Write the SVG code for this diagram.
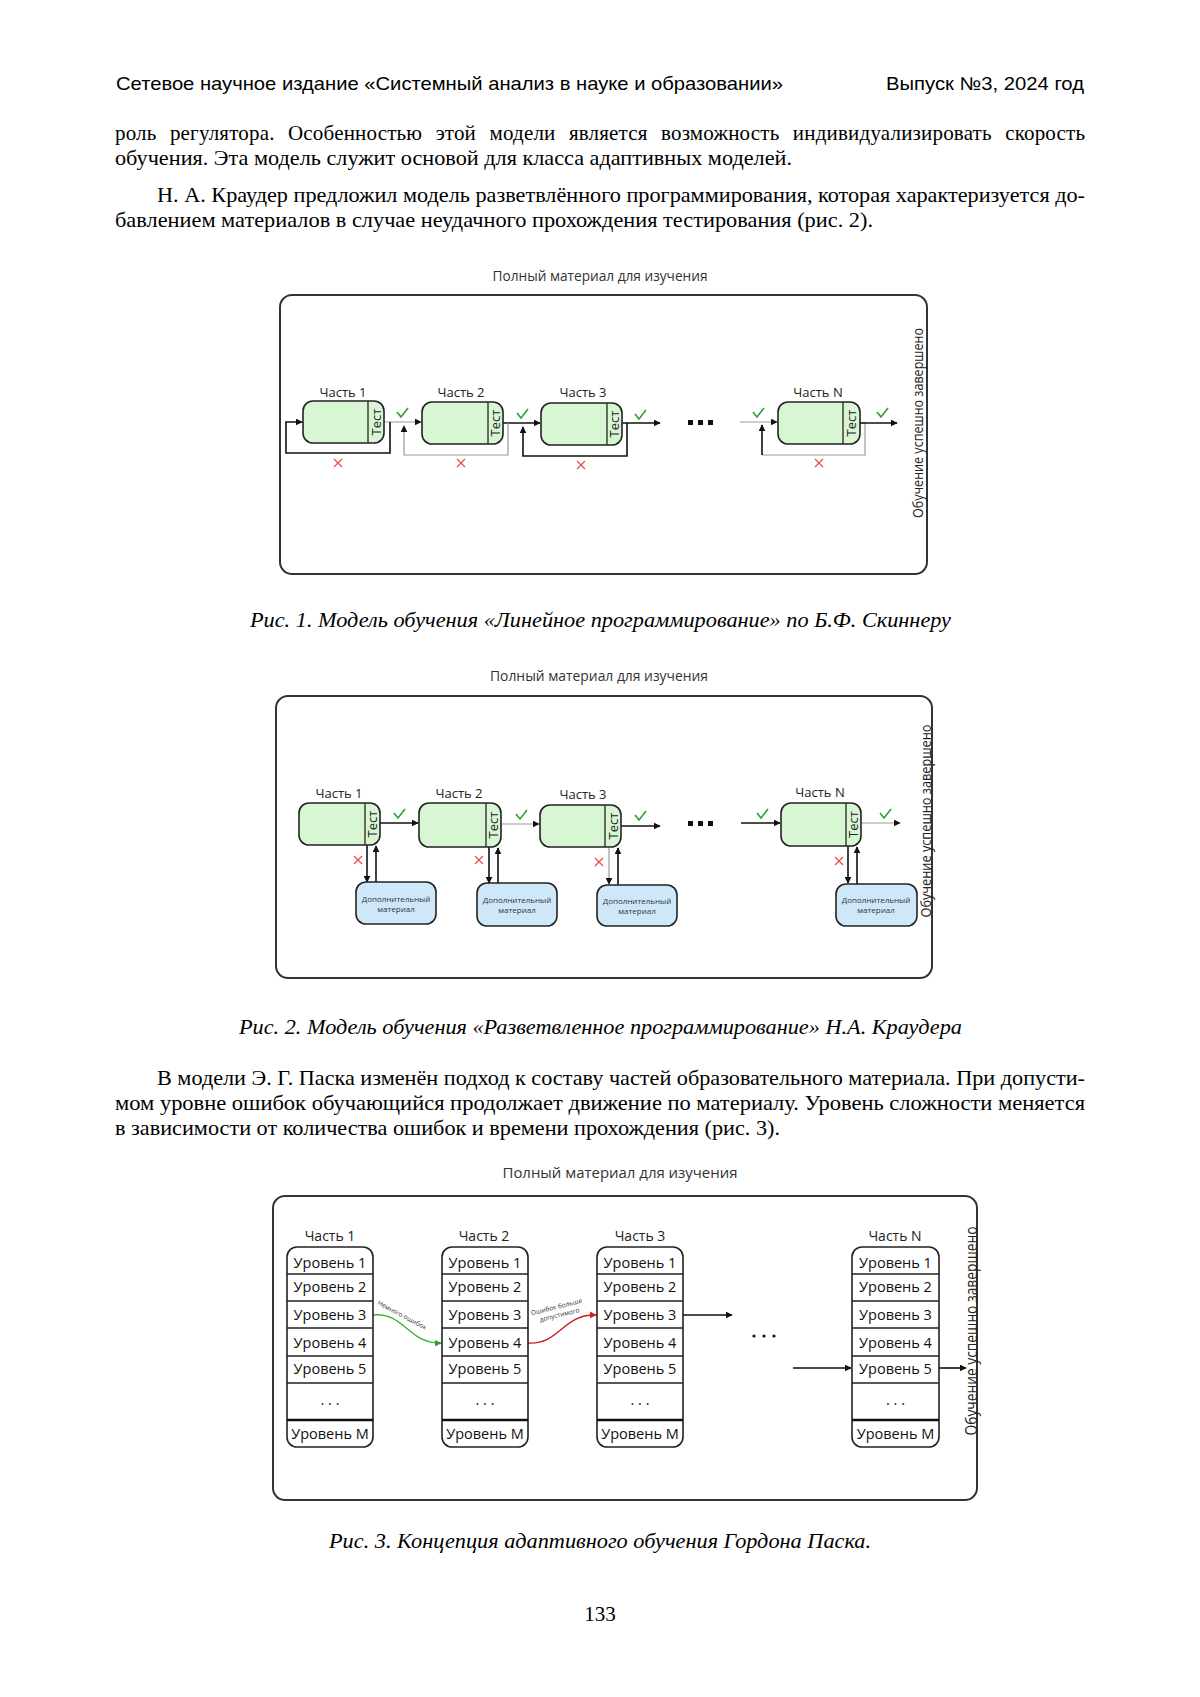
<svg xmlns="http://www.w3.org/2000/svg" width="1200" height="1697" viewBox="0 0 1200 1697">
<defs>
<style>
.hdr{font-family:"Liberation Sans",Arial,sans-serif;font-size:18.5px;fill:#000}
.body{font-family:"Liberation Serif","Times New Roman",serif;font-size:21px;fill:#000}
.cap{font-family:"Liberation Serif","Times New Roman",serif;font-size:20.5px;font-style:italic;fill:#000}
.ttl{font-family:"Open Sans","Noto Sans",sans-serif;font-size:14px;fill:#333;text-anchor:middle}
.lbl{font-family:"Open Sans","Noto Sans",sans-serif;font-size:13px;fill:#222;text-anchor:middle}
.vt{font-family:"Open Sans","Noto Sans",sans-serif;font-size:14.5px;fill:#222;text-anchor:middle}
.tst{font-family:"Open Sans","Noto Sans",sans-serif;font-size:13px;fill:#222;text-anchor:middle}
.add{font-family:"Open Sans","Noto Sans",sans-serif;font-size:8px;fill:#333;text-anchor:middle}
.lvl{font-family:"Open Sans","Noto Sans",sans-serif;font-size:14.5px;fill:#111;text-anchor:middle}
.tiny{font-family:"Open Sans","Noto Sans",sans-serif;font-size:6.5px;fill:#333;text-anchor:middle}
.frame{fill:#fff;stroke:#333;stroke-width:2}
.part{fill:#d9f6d4;stroke:#222;stroke-width:1.6}
.addbox{fill:#cfe8f9;stroke:#222;stroke-width:1.6}
.col{fill:#fff;stroke:#222;stroke-width:1.6}
.sep{stroke:#222;stroke-width:1.4}
.div{stroke:#333;stroke-width:1.4}
.blk{fill:none;stroke:#111;stroke-width:1.6}
.gry{fill:none;stroke:#999;stroke-width:1.2}
.ok{fill:none;stroke:#2fa02f;stroke-width:1.6}
.no{fill:none;stroke:#e84a4a;stroke-width:1.2}
</style>
<marker id="ah" viewBox="0 0 10 10" refX="9" refY="5" markerWidth="7" markerHeight="7" markerUnits="userSpaceOnUse" orient="auto"><path d="M0,0 L10,5 L0,10 z" fill="#111"/></marker>
<marker id="ahg" viewBox="0 0 10 10" refX="9" refY="5" markerWidth="7" markerHeight="7" markerUnits="userSpaceOnUse" orient="auto"><path d="M0,0 L10,5 L0,10 z" fill="#2fa02f"/></marker>
<marker id="ahr" viewBox="0 0 10 10" refX="9" refY="5" markerWidth="7" markerHeight="7" markerUnits="userSpaceOnUse" orient="auto"><path d="M0,0 L10,5 L0,10 z" fill="#d81e1e"/></marker>
<path id="chk" d="M-5,-1 L-1,4 L6,-5"/>
<path id="xx" d="M-4,-4 L4,4 M4,-4 L-4,4"/>
</defs>
<rect width="1200" height="1697" fill="#fff"/>

<g id="page-text">
<text class="hdr" x="116" y="90" textLength="667" lengthAdjust="spacingAndGlyphs">Сетевое научное издание «Системный анализ в науке и образовании»</text>
<text class="hdr" x="886" y="90" textLength="198" lengthAdjust="spacingAndGlyphs">Выпуск №3, 2024 год</text>
<text class="body" x="115" y="140" word-spacing="8" textLength="970" lengthAdjust="spacing">роль регулятора. Особенностью этой модели является возможность индивидуализировать скорость</text>
<text class="body" x="115" y="165" textLength="677" lengthAdjust="spacingAndGlyphs">обучения. Эта модель служит основой для класса адаптивных моделей.</text>
<text class="body" x="157" y="202" textLength="928" lengthAdjust="spacingAndGlyphs">Н. А. Краудер предложил модель разветвлённого программирования, которая характеризуется до-</text>
<text class="body" x="115" y="227" textLength="758" lengthAdjust="spacingAndGlyphs">бавлением материалов в случае неудачного прохождения тестирования (рис. 2).</text>
<text class="cap" x="250" y="627" textLength="701" lengthAdjust="spacingAndGlyphs">Рис. 1. Модель обучения «Линейное программирование» по Б.Ф. Скиннеру</text>
<text class="cap" x="239" y="1034" textLength="723" lengthAdjust="spacingAndGlyphs">Рис. 2. Модель обучения «Разветвленное программирование» Н.А. Краудера</text>
<text class="body" x="157" y="1085" textLength="928" lengthAdjust="spacingAndGlyphs">В модели Э. Г. Паска изменён подход к составу частей образовательного материала. При допусти-</text>
<text class="body" x="115" y="1110" textLength="970" lengthAdjust="spacingAndGlyphs">мом уровне ошибок обучающийся продолжает движение по материалу. Уровень сложности меняется</text>
<text class="body" x="115" y="1135" textLength="665" lengthAdjust="spacingAndGlyphs">в зависимости от количества ошибок и времени прохождения (рис. 3).</text>
<text class="cap" x="329" y="1548" textLength="542" lengthAdjust="spacingAndGlyphs">Рис. 3. Концепция адаптивного обучения Гордона Паска.</text>
<text class="body" x="600" y="1621" text-anchor="middle">133</text>
</g>

<!-- ===== Figure 1 ===== -->
<g id="fig1">
<text class="ttl" x="600" y="281" textLength="215" lengthAdjust="spacingAndGlyphs">Полный материал для изучения</text>
<rect class="frame" x="280" y="295" width="647" height="279" rx="12"/>
<text class="vt" transform="translate(923,423) rotate(-90)" textLength="190" lengthAdjust="spacingAndGlyphs">Обучение успешно завершено</text>
</g>
<g id="f1-connectors">
<path class="gry" d="M384,422 H421" marker-end="url(#ah)"/>
<path class="blk" d="M390,422 V453 H286 V422 H302" marker-end="url(#ah)"/>
<path class="blk" d="M503,423 H540" marker-end="url(#ah)"/>
<path class="gry" d="M508,423 V455 H404 V426" marker-end="url(#ah)"/>
<path class="blk" d="M622,423 H660" marker-end="url(#ah)"/>
<path class="blk" d="M627,423 V456 H523 V427" marker-end="url(#ah)"/>
<path class="gry" d="M740,422 H777" marker-end="url(#ah)"/>
<path class="gry" d="M860,423 H865 V455 H762"/>
<path class="blk" d="M762,455 V425" marker-end="url(#ah)"/>
<path class="blk" d="M860,423 H897" marker-end="url(#ah)"/>
<use href="#chk" class="ok" x="402" y="413"/>
<use href="#chk" class="ok" x="522" y="414"/>
<use href="#chk" class="ok" x="640" y="415"/>
<use href="#chk" class="ok" x="758" y="413"/>
<use href="#chk" class="ok" x="882" y="413"/>
<use href="#xx" class="no" x="338" y="463"/>
<use href="#xx" class="no" x="461" y="463"/>
<use href="#xx" class="no" x="581" y="465"/>
<use href="#xx" class="no" x="819" y="463"/>
<rect x="688" y="420" width="5" height="5" fill="#111"/>
<rect x="698" y="420" width="5" height="5" fill="#111"/>
<rect x="708" y="420" width="5" height="5" fill="#111"/>
</g>
<g id="f1-part1">
<text class="lbl" x="343" y="397">Часть 1</text>
<rect class="part" x="303" y="401" width="81" height="42" rx="10"/>
<line class="div" x1="368" y1="401" x2="368" y2="443"/>
<text class="tst" transform="translate(380.5,422) rotate(-90)">Тест</text>
</g>
<g id="f1-part2">
<text class="lbl" x="461" y="397">Часть 2</text>
<rect class="part" x="422" y="402" width="81" height="42" rx="10"/>
<line class="div" x1="488" y1="402" x2="488" y2="444"/>
<text class="tst" transform="translate(500,423) rotate(-90)">Тест</text>
</g>
<g id="f1-part3">
<text class="lbl" x="583" y="397">Часть 3</text>
<rect class="part" x="541" y="403" width="81" height="42" rx="10"/>
<line class="div" x1="607" y1="403" x2="607" y2="445"/>
<text class="tst" transform="translate(619,424) rotate(-90)">Тест</text>
</g>
<g id="f1-partN">
<text class="lbl" x="818" y="397">Часть N</text>
<rect class="part" x="778" y="402" width="82" height="42" rx="10"/>
<line class="div" x1="843" y1="402" x2="843" y2="444"/>
<text class="tst" transform="translate(856,423) rotate(-90)">Тест</text>
</g>

<!-- ===== Figure 2 ===== -->
<g id="fig2">
<text class="ttl" x="599" y="681" textLength="218" lengthAdjust="spacingAndGlyphs">Полный материал для изучения</text>
<rect class="frame" x="276" y="696" width="656" height="282" rx="12"/>
<text class="vt" transform="translate(931,821) rotate(-90)" textLength="193" lengthAdjust="spacingAndGlyphs">Обучение успешно завершено</text>
</g>
<g id="f2-connectors">
<path class="blk" d="M380,823 H418" marker-end="url(#ah)"/>
<path class="gry" d="M501,824 H539" marker-end="url(#ah)"/>
<path class="blk" d="M621,826 H660" marker-end="url(#ah)"/>
<path class="blk" d="M741,823 H780" marker-end="url(#ah)"/>
<path class="gry" d="M861,823 H900" marker-end="url(#ah)"/>
<path class="blk" d="M367,845 V882" marker-end="url(#ah)"/>
<path class="blk" d="M376,882 V846" marker-end="url(#ah)"/>
<path class="blk" d="M489,847 V883" marker-end="url(#ah)"/>
<path class="blk" d="M498,883 V848" marker-end="url(#ah)"/>
<path class="gry" d="M609,847 V884" marker-end="url(#ah)"/>
<path class="blk" d="M618,885 V848" marker-end="url(#ah)"/>
<path class="blk" d="M848,846 V883" marker-end="url(#ah)"/>
<path class="blk" d="M857,884 V847" marker-end="url(#ah)"/>
<use href="#chk" class="ok" x="399" y="814"/>
<use href="#chk" class="ok" x="521" y="815"/>
<use href="#chk" class="ok" x="640" y="816"/>
<use href="#chk" class="ok" x="762" y="814"/>
<use href="#chk" class="ok" x="885" y="814"/>
<use href="#xx" class="no" x="358" y="860"/>
<use href="#xx" class="no" x="479" y="860"/>
<use href="#xx" class="no" x="599" y="862"/>
<use href="#xx" class="no" x="839" y="861"/>
<rect x="688" y="821" width="5" height="5" fill="#111"/>
<rect x="698" y="821" width="5" height="5" fill="#111"/>
<rect x="708" y="821" width="5" height="5" fill="#111"/>
</g>
<g id="f2-part1">
<text class="lbl" x="339" y="798">Часть 1</text>
<rect class="part" x="299" y="803" width="81" height="42" rx="10"/>
<line class="div" x1="365" y1="803" x2="365" y2="845"/>
<text class="tst" transform="translate(377,824) rotate(-90)">Тест</text>
</g>
<g id="f2-part2">
<text class="lbl" x="459" y="798">Часть 2</text>
<rect class="part" x="419" y="803" width="82" height="44" rx="10"/>
<line class="div" x1="486" y1="803" x2="486" y2="847"/>
<text class="tst" transform="translate(498,825) rotate(-90)">Тест</text>
</g>
<g id="f2-part3">
<text class="lbl" x="583" y="799">Часть 3</text>
<rect class="part" x="540" y="805" width="81" height="42" rx="10"/>
<line class="div" x1="605" y1="805" x2="605" y2="847"/>
<text class="tst" transform="translate(617.5,826) rotate(-90)">Тест</text>
</g>
<g id="f2-partN">
<text class="lbl" x="820" y="797">Часть N</text>
<rect class="part" x="781" y="803" width="80" height="43" rx="10"/>
<line class="div" x1="846" y1="803" x2="846" y2="846"/>
<text class="tst" transform="translate(858,824.5) rotate(-90)">Тест</text>
</g>
<g id="f2-add1">
<rect class="addbox" x="356" y="882" width="80" height="42" rx="10"/>
<text class="add" x="396" y="902">Дополнительный</text>
<text class="add" x="396" y="912">материал</text>
</g>
<g id="f2-add2">
<rect class="addbox" x="477" y="883" width="80" height="43" rx="10"/>
<text class="add" x="517" y="903">Дополнительный</text>
<text class="add" x="517" y="913">материал</text>
</g>
<g id="f2-add3">
<rect class="addbox" x="597" y="885" width="80" height="41" rx="10"/>
<text class="add" x="637" y="904">Дополнительный</text>
<text class="add" x="637" y="914">материал</text>
</g>
<g id="f2-addN">
<rect class="addbox" x="836" y="884" width="81" height="42" rx="10"/>
<text class="add" x="876" y="903">Дополнительный</text>
<text class="add" x="876" y="913">материал</text>
</g>

<!-- ===== Figure 3 ===== -->
<g id="fig3">
<text class="ttl" x="620" y="1178" style="font-size:15px" textLength="235" lengthAdjust="spacingAndGlyphs">Полный материал для изучения</text>
<rect class="frame" x="273" y="1196" width="704" height="304" rx="12"/>
<text class="vt" transform="translate(977,1331) rotate(-90)" style="font-size:15.5px" textLength="209" lengthAdjust="spacingAndGlyphs">Обучение успешно завершено</text>
</g>
<g id="f3-connectors">
<path d="M373,1315 C405,1312 408,1344 441,1343" fill="none" stroke="#3cb43c" stroke-width="1.4" marker-end="url(#ahg)"/>
<text class="tiny" transform="translate(401,1317) rotate(28)">Немного ошибок</text>
<path d="M528,1343 C560,1345 562,1314 596,1315" fill="none" stroke="#cc1f1f" stroke-width="1.4" marker-end="url(#ahr)"/>
<text class="tiny" transform="translate(557,1309) rotate(-14)">Ошибок больше</text>
<text class="tiny" transform="translate(560,1317) rotate(-14)">допустимого</text>
<path class="blk" d="M683,1315 H732" marker-end="url(#ah)"/>
<path class="blk" d="M793,1368 H851" marker-end="url(#ah)"/>
<path class="blk" d="M939,1368 H966" marker-end="url(#ah)"/>
<circle cx="754" cy="1336" r="1.6" fill="#111"/>
<circle cx="764" cy="1336" r="1.6" fill="#111"/>
<circle cx="774" cy="1336" r="1.6" fill="#111"/>
</g>
<g id="f3-part1">
<text class="lbl" x="330" y="1241" style="font-size:14px">Часть 1</text>
<rect class="col" x="287" y="1247" width="86" height="200" rx="10"/>
<path class="sep" d="M287,1274 H373 M287,1301 H373 M287,1328 H373 M287,1356 H373 M287,1383 H373"/>
<path d="M287,1420 H373" stroke="#111" stroke-width="2.4"/>
<text class="lvl" x="330" y="1268">Уровень 1</text>
<text class="lvl" x="330" y="1292">Уровень 2</text>
<text class="lvl" x="330" y="1320">Уровень 3</text>
<text class="lvl" x="330" y="1348">Уровень 4</text>
<text class="lvl" x="330" y="1374">Уровень 5</text>
<text class="lvl" x="330" y="1405">. . .</text>
<text class="lvl" x="330" y="1439">Уровень М</text>
</g>
<g id="f3-part2">
<text class="lbl" x="484" y="1241" style="font-size:14px">Часть 2</text>
<rect class="col" x="442" y="1247" width="86" height="200" rx="10"/>
<path class="sep" d="M442,1274 H528 M442,1301 H528 M442,1328 H528 M442,1356 H528 M442,1383 H528"/>
<path d="M442,1420 H528" stroke="#111" stroke-width="2.4"/>
<text class="lvl" x="485" y="1268">Уровень 1</text>
<text class="lvl" x="485" y="1292">Уровень 2</text>
<text class="lvl" x="485" y="1320">Уровень 3</text>
<text class="lvl" x="485" y="1348">Уровень 4</text>
<text class="lvl" x="485" y="1374">Уровень 5</text>
<text class="lvl" x="485" y="1405">. . .</text>
<text class="lvl" x="485" y="1439">Уровень М</text>
</g>
<g id="f3-part3">
<text class="lbl" x="640" y="1241" style="font-size:14px">Часть 3</text>
<rect class="col" x="597" y="1247" width="86" height="200" rx="10"/>
<path class="sep" d="M597,1274 H683 M597,1301 H683 M597,1328 H683 M597,1356 H683 M597,1383 H683"/>
<path d="M597,1420 H683" stroke="#111" stroke-width="2.4"/>
<text class="lvl" x="640" y="1268">Уровень 1</text>
<text class="lvl" x="640" y="1292">Уровень 2</text>
<text class="lvl" x="640" y="1320">Уровень 3</text>
<text class="lvl" x="640" y="1348">Уровень 4</text>
<text class="lvl" x="640" y="1374">Уровень 5</text>
<text class="lvl" x="640" y="1405">. . .</text>
<text class="lvl" x="640" y="1439">Уровень М</text>
</g>
<g id="f3-partN">
<text class="lbl" x="895" y="1241" style="font-size:14px">Часть N</text>
<rect class="col" x="852" y="1247" width="87" height="200" rx="10"/>
<path class="sep" d="M852,1274 H939 M852,1301 H939 M852,1328 H939 M852,1356 H939 M852,1383 H939"/>
<path d="M852,1420 H939" stroke="#111" stroke-width="2.4"/>
<text class="lvl" x="895.5" y="1268">Уровень 1</text>
<text class="lvl" x="895.5" y="1292">Уровень 2</text>
<text class="lvl" x="895.5" y="1320">Уровень 3</text>
<text class="lvl" x="895.5" y="1348">Уровень 4</text>
<text class="lvl" x="895.5" y="1374">Уровень 5</text>
<text class="lvl" x="895.5" y="1405">. . .</text>
<text class="lvl" x="895.5" y="1439">Уровень М</text>
</g>
</svg>
